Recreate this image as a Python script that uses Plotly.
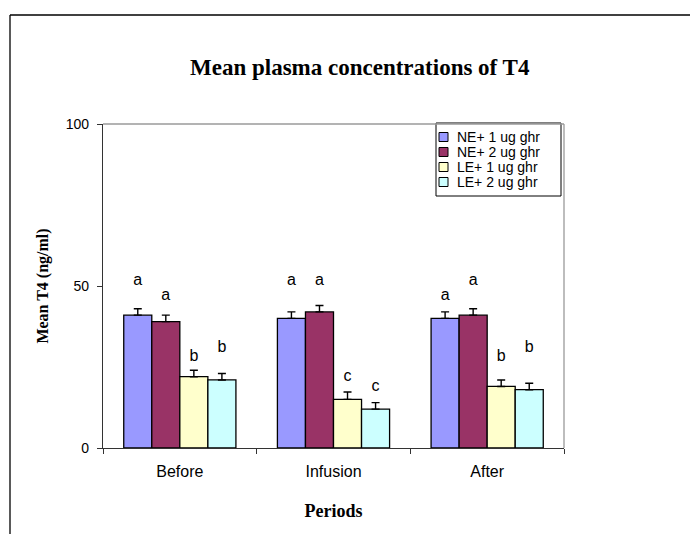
import plotly.graph_objects as go

# ---- data ----
periods = ["Before", "Infusion", "After"]
series_names = ["NE+ 1 ug ghr", "NE+ 2 ug ghr", "LE+ 1 ug ghr", "LE+ 2 ug ghr"]
ne1 = [41, 40, 40]
ne2 = [39, 42, 41]
le1 = [22, 15, 19]
le2 = [21, 12, 18]
ne1_err = [2, 2, 2]
ne2_err = [2, 2, 2]
le1_err = [2, 2.3, 2]
le2_err = [2, 2, 2]
ne1_letters = ["a", "a", "a"]
ne2_letters = ["a", "a", "a"]
le1_letters = ["b", "c", "b"]
le2_letters = ["b", "c", "b"]
ne1_label_y = [51.4, 51.4, 47]
ne2_label_y = [47, 51.4, 51.4]
le1_label_y = [28, 21.8, 28]
le2_label_y = [31, 18.7, 31]
y_ticks = [0, 50, 100]

colors = ["#9999FF", "#993366", "#FFFFCC", "#CCFFFF"]
values = [ne1, ne2, le1, le2]
errs = [ne1_err, ne2_err, le1_err, le2_err]
letters = [ne1_letters, ne2_letters, le1_letters, le2_letters]
label_ys = [ne1_label_y, ne2_label_y, le1_label_y, le2_label_y]

# page body has an 8px default margin; compensate so screen pixels match
OFF = 8
W, H = 698, 534
PW, PH = 461, 324
L, T = 103 - OFF, 124 - OFF
R, B = W - L - PW, H - T - PH

def px_x(x):  # screen pixel -> paper x
    return (x - OFF - L) / PW

def px_y(y):  # screen pixel -> paper y
    return (T + PH - (y - OFF)) / PH

fig = go.Figure()
for i in range(4):
    fig.add_trace(go.Bar(
        x=periods, y=values[i], name=series_names[i],
        marker=dict(color=colors[i], line=dict(color="black", width=1.3)),
        error_y=dict(type="data", symmetric=False, array=errs[i],
                     arrayminus=[0] * len(errs[i]), color="black",
                     thickness=1.4, width=4),
        offsetgroup=str(i), alignmentgroup="g", showlegend=False,
    ))
for i in range(4):
    fig.add_trace(go.Scatter(
        x=periods, y=label_ys[i], mode="text", text=letters[i],
        textposition="middle center",
        textfont=dict(family="Liberation Sans, Arial", size=16, color="black"),
        offsetgroup=str(i), alignmentgroup="g",
        showlegend=False, hoverinfo="skip",
    ))

# manual legend (box, swatches, labels) drawn in paper coordinates
leg_left, leg_right, leg_top, leg_bottom = 436, 561, 123, 196
row_centers = [137, 152, 167, 182]
shapes = [
    dict(type="rect", xref="paper", yref="paper",
         x0=px_x(leg_left), x1=px_x(leg_right), y0=px_y(leg_bottom), y1=px_y(leg_top),
         fillcolor="white", line=dict(color="black", width=1), layer="above"),
]
annotations = []
for i in range(4):
    yc = row_centers[i]
    shapes.append(dict(type="rect", xref="paper", yref="paper",
                       x0=px_x(439), x1=px_x(448), y0=px_y(yc + 4.5), y1=px_y(yc - 4.5),
                       fillcolor=colors[i], line=dict(color="black", width=1),
                       layer="above"))
    annotations.append(dict(text=series_names[i], xref="paper", yref="paper",
                            x=px_x(455), y=px_y(yc), xanchor="left", yanchor="middle",
                            showarrow=False,
                            font=dict(family="Liberation Sans, Arial", size=14,
                                      color="black")))

annotations.append(dict(
    text="<b>Mean plasma concentrations of T4</b>", xref="paper", yref="paper",
    x=px_x(360), y=px_y(67), xanchor="center", yanchor="middle",
    showarrow=False,
    font=dict(family="Liberation Serif, Times New Roman", size=23, color="black"),
))

shapes += [
    # plot-area border (top & right)
    dict(type="line", xref="paper", yref="paper", x0=0, x1=1, y0=1, y1=1,
         line=dict(color="#9a9a9a", width=1.3)),
    dict(type="line", xref="paper", yref="paper", x0=1, x1=1, y0=0, y1=1,
         line=dict(color="#9a9a9a", width=1.3)),
    # outer frame (top & left)
    dict(type="line", xref="paper", yref="paper", x0=px_x(10), x1=px_x(710),
         y0=px_y(15), y1=px_y(15), line=dict(color="black", width=1.3)),
    dict(type="line", xref="paper", yref="paper", x0=px_x(10), x1=px_x(10),
         y0=px_y(15), y1=px_y(545), line=dict(color="black", width=1.3)),
]

fig.update_layout(
    width=W, height=H,
    margin=dict(l=L, r=R, t=T, b=B, autoexpand=False),
    paper_bgcolor="white", plot_bgcolor="white",
    barmode="group", bargap=0.27, bargroupgap=0,
    scattermode="group", scattergap=0.27,
    font=dict(family="Liberation Sans, Arial", color="black"),
    showlegend=False,
    xaxis=dict(
        automargin=False,
        showline=True, linecolor="#333333", linewidth=1.3,
        ticks="outside", tickson="boundaries", ticklen=5, tickcolor="#333333",
        tickfont=dict(size=16), ticklabelstandoff=9, showgrid=False,
        title=dict(text="<b>Periods</b>", standoff=25,
                   font=dict(family="Liberation Serif, Times New Roman", size=18)),
    ),
    yaxis=dict(
        automargin=False,
        range=[0, 100], tickvals=y_ticks, showline=True, linecolor="#333333",
        linewidth=1.3, ticks="outside", ticklen=5, tickcolor="#333333",
        tickfont=dict(size=14), ticklabelstandoff=5, showgrid=False, zeroline=False,
        title=dict(text="<b>Mean T4 (ng/ml)</b>", standoff=13,
                   font=dict(family="Liberation Serif, Times New Roman", size=16)),
    ),
    annotations=annotations,
    shapes=shapes,
)

fig.write_html("out.html")
